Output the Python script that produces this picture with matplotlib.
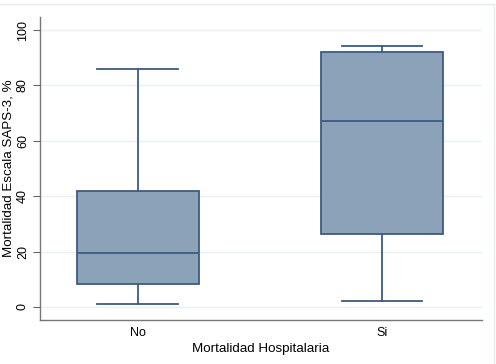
import matplotlib.pyplot as plt
from matplotlib.patches import Rectangle

plt.rcParams['font.family'] = ['Liberation Sans', 'DejaVu Sans']

groups = ["No", "Si"]
whislo = [1.1, 2.2]
q1 = [8.3, 26.4]
med = [19.5, 67.1]
q3 = [42.0, 92.0]
whishi = [86.0, 94.2]

yticks = [0, 20, 40, 60, 80, 100]

FILL = "#8ca2b8"
EDGE = "#3d5c80"
GRID = "#e8f0f2"

stats = [
    dict(label=g, whislo=lo, q1=a, med=m, q3=b, whishi=hi, fliers=[])
    for g, lo, a, m, b, hi in zip(groups, whislo, q1, med, q3, whishi)
]

fig = plt.figure(figsize=(4.96, 3.64), dpi=100, facecolor="white")
ax = fig.add_axes([40 / 496, 44 / 364, 442 / 496, 303 / 364])

ax.bxp(
    stats,
    positions=[1, 2],
    widths=0.5,
    patch_artist=True,
    showfliers=False,
    boxprops=dict(facecolor=FILL, edgecolor=EDGE, linewidth=1.3),
    medianprops=dict(color=EDGE, linewidth=1.3),
    whiskerprops=dict(color=EDGE, linewidth=1.3),
    capprops=dict(color=EDGE, linewidth=1.3),
    capwidths=0.33,
    zorder=3,
)

ax.set_xlim(0.6, 2.41)
ax.set_ylim(-4.7, 104.7)
ax.set_yticks(yticks)
ax.set_yticklabels([str(t) for t in yticks], rotation=90, va="center", fontsize=9)
ax.tick_params(axis="y", length=5, width=0.8, color="#666666", pad=3)
ax.tick_params(axis="x", length=0, labelsize=9, pad=5)
ax.grid(axis="y", color=GRID, linewidth=1, zorder=0)

for side in ["top", "right"]:
    ax.spines[side].set_visible(False)
for side in ["left", "bottom"]:
    ax.spines[side].set_color("#777777")
    ax.spines[side].set_linewidth(1)

ax.set_ylabel("Mortalidad Escala SAPS-3, %", fontsize=9.6)
ax.yaxis.set_label_coords(-25 / 442, 0.5)
ax.set_xlabel("Mortalidad Hospitalaria", fontsize=9.6, labelpad=3)

# light frame around the graph region
fig.patches.append(Rectangle((-0.01, -0.01), 1 - 2 / 496 + 0.01, 1 - 4 / 364 + 0.01,
                             transform=fig.transFigure, fill=False,
                             edgecolor="#e3ecef", linewidth=1))

fig.savefig("out.png", dpi=100, facecolor="white")
